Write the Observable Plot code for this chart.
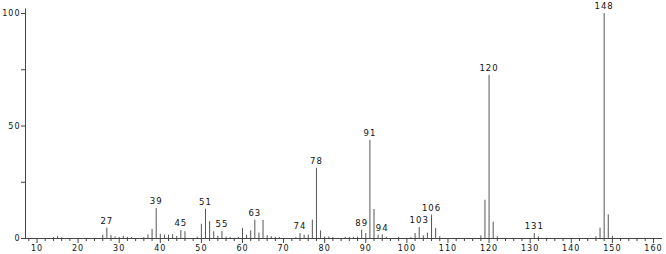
<!DOCTYPE html>
<html>
<head>
<meta charset="utf-8">
<script src="https://cdn.jsdelivr.net/npm/d3@7"></script>
<script src="https://cdn.jsdelivr.net/npm/@observablehq/plot@0.6"></script>
<style>
  html, body { margin: 0; padding: 0; background: #fff; }
</style>
</head>
<body>
<div id="chart"></div>
<script>
// m/z values and relative intensities (%)
const mz = [14, 15, 16, 26, 27, 28, 29, 30, 31, 32, 33, 36, 37, 38, 39, 40, 41, 42, 43, 44, 45, 46,
  49, 50, 51, 52, 53, 54, 55, 56, 57, 59, 60, 61, 62, 63, 64, 65, 66, 67, 68, 69,
  73, 74, 75, 76, 77, 78, 79, 80, 81, 82, 85, 86, 87, 88, 89, 90, 91, 92, 93, 94, 95, 98,
  101, 102, 103, 104, 105, 106, 107, 108, 118, 119, 120, 121, 122, 131, 132, 146, 147, 148, 149, 150];
const intensity = [0.4, 0.8, 0.3, 1.5, 4.6, 1.3, 0.7, 0.5, 1.0, 0.5, 0.4, 0.4, 1.6, 4.0, 13.3, 1.9, 1.5, 1.5, 1.7, 0.9, 3.5, 3.0,
  0.6, 6.3, 13.0, 7.5, 3.0, 1.0, 3.1, 0.6, 0.5, 0.5, 4.5, 1.5, 3.4, 8.1, 2.4, 8.0, 1.2, 0.8, 0.5, 0.4,
  0.4, 2.2, 1.5, 1.5, 8.2, 31.2, 3.4, 0.6, 0.7, 0.4, 0.5, 0.5, 0.5, 0.6, 3.7, 2.2, 43.6, 12.9, 1.5, 1.6, 0.5, 0.5,
  0.4, 2.2, 4.9, 1.2, 2.4, 10.4, 4.4, 0.8, 1.2, 17.0, 72.5, 7.3, 0.8, 2.2, 0.7, 0.8, 4.6, 100, 10.5, 1.0];
const labeledPeaks = [27, 39, 45, 51, 55, 63, 74, 78, 89, 91, 94, 103, 106, 120, 131, 148];
const xMajorTicks = [10, 20, 30, 40, 50, 60, 70, 80, 90, 100, 110, 120, 130, 140, 150, 160];
const yTicks = [0, 25, 50, 75, 100];
const yLabels = [0, 50, 100];

const peaks = mz.map((m, i) => ({mz: m, value: intensity[i]}));
const labels = peaks.filter(d => labeledPeaks.includes(d.mz));
const xMinorTicks = d3.range(8, 162, 2).filter(t => !xMajorTicks.includes(t));

const axisColor = "#444";
const chart = Plot.plot({
  width: 666,
  height: 254,
  marginLeft: 25,
  marginRight: 4,
  marginTop: 13,
  marginBottom: 16,
  x: {domain: [7.2, 162.2], label: null},
  y: {domain: [0, 100], label: null},
  style: {fontFamily: "'DejaVu Sans', sans-serif", fontSize: "8px", letterSpacing: "1px", color: "#111", background: "#fff"},
  marks: [
    Plot.ruleX(peaks, {x: "mz", y1: 0, y2: "value", stroke: "#555", strokeWidth: 1}),
    Plot.ruleY([0], {stroke: axisColor}),
    Plot.ruleX([7.2], {stroke: axisColor, y1: 0, y2: 102}),
    Plot.axisX(xMinorTicks, {tickSize: 3, tickFormat: () => "", stroke: axisColor, label: null}),
    Plot.axisX(xMajorTicks, {tickSize: 5, tickPadding: 2, stroke: axisColor, label: null, fill: "#111"}),
    Plot.axisY(yTicks, {tickSize: 4, tickPadding: 1, stroke: axisColor, label: null, fill: "#111",
      tickFormat: d => yLabels.includes(d) ? String(d) : ""}),
    Plot.text(labels, {x: "mz", y: "value", text: d => String(d.mz), dy: -7, fill: "#111", fontSize: 8.5})
  ]
});
document.getElementById("chart").appendChild(chart);
</script>
</body>
</html>
